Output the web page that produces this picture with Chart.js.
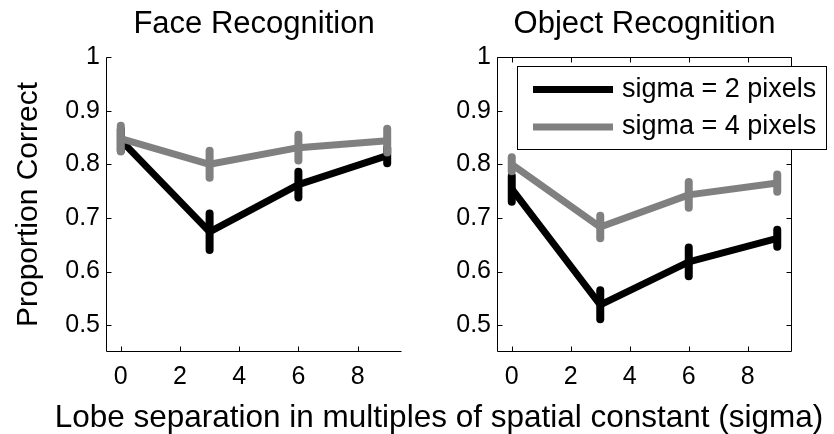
<!DOCTYPE html>
<html>
<head>
<meta charset="utf-8">
<script src="https://cdn.jsdelivr.net/npm/chart.js@4"></script>
<style>
  html, body { margin:0; padding:0; background:#fff; overflow:hidden; }
  #wrap { position:relative; width:834px; height:434px; }
  .panel { position:absolute; top:0; height:434px; }
  #xlabel { position:absolute; left:34px; width:810px; top:401px; text-align:center; white-space:nowrap;
            font:31.5px 'Liberation Sans', Arial, Helvetica, sans-serif; line-height:30px; color:#000; }
</style>
</head>
<body>
<div id="wrap">
  <div class="panel" style="left:0;width:420px"><canvas id="chart-face" width="420" height="434"></canvas></div>
  <div class="panel" style="left:420px;width:414px"><canvas id="chart-object" width="414" height="434"></canvas></div>
  <div id="xlabel">Lobe separation in multiples of spatial constant (sigma)</div>
</div>
<script>
/* ── data ── */
var SEPARATIONS   = [0, 3, 6, 9];
var X_TICKS       = [0, 2, 4, 6, 8];
var Y_TICKS       = [0.5, 0.6, 0.7, 0.8, 0.9, 1];
var Y_TICK_LABELS = ['0.5', '0.6', '0.7', '0.8', '0.9', '1'];
var LEGEND_LABELS = ['sigma = 2 pixels', 'sigma = 4 pixels'];
var SERIES_COLORS = ['#000000', '#808080'];

var FACE_SIGMA2     = [0.845, 0.674, 0.762, 0.816];
var FACE_SIGMA2_ERR = [0.020, 0.034, 0.024, 0.014];
var FACE_SIGMA4     = [0.848, 0.800, 0.831, 0.844];
var FACE_SIGMA4_ERR = [0.024, 0.025, 0.024, 0.022];

var OBJ_SIGMA2      = [0.754, 0.538, 0.618, 0.662];
var OBJ_SIGMA2_ERR  = [0.024, 0.027, 0.027, 0.016];
var OBJ_SIGMA4      = [0.800, 0.683, 0.743, 0.765];
var OBJ_SIGMA4_ERR  = [0.013, 0.021, 0.024, 0.016];

var FONT = "'Liberation Sans', Arial, Helvetica, sans-serif";
var TICK = 5;
Chart.defaults.font.family = FONT;
Chart.defaults.color = '#000';

function toPoints(vals) {
  return vals.map(function(v, i) { return { x: SEPARATIONS[i], y: v }; });
}

/* ── vertical error bars, drawn with each dataset ── */
var errorBarsPlugin = {
  id: 'errorBars',
  afterDatasetDraw: function(chart, args) {
    var ds = chart.data.datasets[args.index];
    if (!ds.errors) return;
    var xs = chart.scales.x, ys = chart.scales.y, ctx = chart.ctx;
    ctx.save();
    ctx.strokeStyle = ds.borderColor; ctx.lineWidth = 8; ctx.lineCap = 'round';
    ds.data.forEach(function(p, i) {
      var px = xs.getPixelForValue(p.x);
      ctx.beginPath();
      ctx.moveTo(px, ys.getPixelForValue(p.y - ds.errors[i]));
      ctx.lineTo(px, ys.getPixelForValue(p.y + ds.errors[i]));
      ctx.stroke();
    });
    ctx.restore();
  }
};

/* ── MATLAB style axes: inward ticks, optional box ── */
var matlabAxesPlugin = {
  id: 'matlabAxes',
  beforeDatasetsDraw: function(chart, args, opts) {
    var a = chart.chartArea, ctx = chart.ctx, xs = chart.scales.x, ys = chart.scales.y;
    var l = Math.round(a.left) + 0.5, r = Math.round(a.right) - 0.5;
    var t = Math.round(a.top) + 0.5, b = Math.round(a.bottom) - 0.5;
    ctx.save();
    ctx.strokeStyle = '#000'; ctx.lineWidth = 1;
    ctx.beginPath();
    ctx.moveTo(l, t); ctx.lineTo(l, b); ctx.lineTo(r, b);
    if (opts.box) { ctx.lineTo(r, t); ctx.lineTo(l, t); }
    xs.ticks.forEach(function(tk) {
      var px = Math.round(xs.getPixelForValue(tk.value)) + 0.5;
      ctx.moveTo(px, b); ctx.lineTo(px, b - TICK);
      if (opts.box) { ctx.moveTo(px, t); ctx.lineTo(px, t + TICK); }
    });
    ys.ticks.forEach(function(tk) {
      var py = Math.round(ys.getPixelForValue(tk.value)) + 0.5;
      ctx.moveTo(l, py); ctx.lineTo(l + TICK, py);
      if (opts.box) { ctx.moveTo(r, py); ctx.lineTo(r - TICK, py); }
    });
    ctx.stroke();
    ctx.restore();
  }
};

/* ── boxed legend inside the axes ── */
var boxLegendPlugin = {
  id: 'boxLegend',
  afterDraw: function(chart, args, opts) {
    if (!opts.display) return;
    var a = chart.chartArea, ctx = chart.ctx;
    var x0 = Math.round(a.left) + 20, y0 = Math.round(a.top) + 9, w = 309, h = 83;
    ctx.save();
    ctx.fillStyle = '#fff'; ctx.fillRect(x0, y0, w, h);
    ctx.strokeStyle = '#000'; ctx.lineWidth = 1; ctx.strokeRect(x0 + 0.5, y0 + 0.5, w, h);
    ctx.font = '27px ' + FONT; ctx.textBaseline = 'middle'; ctx.textAlign = 'left';
    chart.data.datasets.slice().sort(function(p, q) { return p.legendIndex - q.legendIndex; }).forEach(function(ds, i) {
      var y = y0 + 23.5 + i * 37.5;
      ctx.strokeStyle = ds.borderColor; ctx.lineWidth = 7; ctx.lineCap = 'butt';
      ctx.beginPath(); ctx.moveTo(x0 + 16, y); ctx.lineTo(x0 + 96, y); ctx.stroke();
      ctx.fillStyle = '#000';
      ctx.fillText(ds.label, x0 + 105, y);
    });
    ctx.restore();
  }
};

function makeChart(id, title, s2, s2err, s4, s4err, o) {
  return new Chart(document.getElementById(id).getContext('2d'), {
    type: 'line',
    data: {
      datasets: [
        { label: LEGEND_LABELS[0], legendIndex: 0, data: toPoints(s2), errors: s2err, borderColor: SERIES_COLORS[0],
          borderWidth: 7, borderJoinStyle: 'round', pointRadius: 0, fill: false, tension: 0, order: 1 },
        { label: LEGEND_LABELS[1], legendIndex: 1, data: toPoints(s4), errors: s4err, borderColor: SERIES_COLORS[1],
          borderWidth: 7, borderJoinStyle: 'round', pointRadius: 0, fill: false, tension: 0, order: 0 }
      ]
    },
    options: {
      responsive: false, animation: false, events: [],
      layout: { padding: { top: 0, right: o.padRight, bottom: 0, left: 0 } },
      plugins: {
        legend: { display: false }, tooltip: { enabled: false },
        title: { display: true, text: title, fullSize: false, color: '#000',
                 font: { size: 31, weight: 'normal', lineHeight: 1.2 }, padding: { top: 5.4, bottom: 14.4 } },
        matlabAxes: { box: o.box },
        boxLegend: { display: o.legend }
      },
      scales: {
        x: {
          type: 'linear', min: -0.5, max: 9.5, bounds: 'data',
          grid: { display: false, drawTicks: false }, border: { display: false },
          afterBuildTicks: function(s) { s.ticks = X_TICKS.map(function(v) { return { value: v }; }); },
          afterFit: function(s) { s.height = 82; },
          ticks: { font: { size: 25 }, padding: 10.5, maxRotation: 0, color: '#000',
                   callback: function(v) { return String(v); } }
        },
        y: {
          type: 'linear', min: 0.45, max: 1, bounds: 'data',
          grid: { display: false, drawTicks: false }, border: { display: false },
          afterBuildTicks: function(s) { s.ticks = Y_TICKS.map(function(v) { return { value: v }; }); },
          afterFit: function(s) { s.width = o.axisWidth; },
          ticks: { font: { size: 25 }, padding: 6, color: '#000',
                   callback: function(v) { return Y_TICK_LABELS[Y_TICKS.indexOf(v)]; } },
          title: { display: !!o.yTitle, text: o.yTitle || '', color: '#000',
                   font: { size: 30 }, padding: { top: 11, bottom: 0 } }
        }
      }
    },
    plugins: [matlabAxesPlugin, errorBarsPlugin, boxLegendPlugin]
  });
}

makeChart('chart-face', 'Face Recognition', FACE_SIGMA2, FACE_SIGMA2_ERR, FACE_SIGMA4, FACE_SIGMA4_ERR,
  { padRight: 18, axisWidth: 106, box: false, legend: false, yTitle: 'Proportion Correct' });
makeChart('chart-object', 'Object Recognition', OBJ_SIGMA2, OBJ_SIGMA2_ERR, OBJ_SIGMA4, OBJ_SIGMA4_ERR,
  { padRight: 42, axisWidth: 77, box: true, legend: true });
</script>
</body>
</html>
